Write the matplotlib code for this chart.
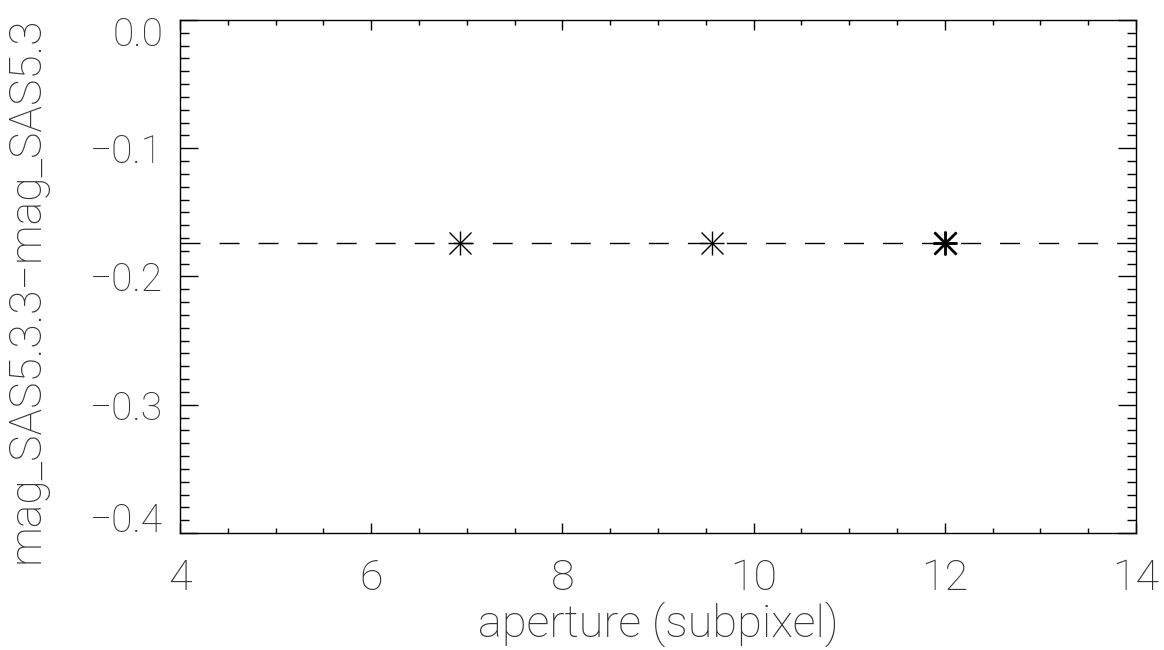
import matplotlib
matplotlib.use("Agg")
import matplotlib.pyplot as plt
from matplotlib.ticker import MultipleLocator
from matplotlib.transforms import ScaledTranslation, blended_transform_factory

# aperture sizes (subpixel) and magnitude differences
aperture = [6.93, 9.57, 12.0]
dmag = [-0.174, -0.174, -0.174]
mean_dmag = -0.174

xlabel = "aperture (subpixel)"
ylabel = "mag_SAS5.3.3\u2212mag_SAS5.3"
ymin, ymax = -0.4, 0.0

plt.rcParams['font.family'] = ['Roboto', 'DejaVu Sans']
plt.rcParams['lines.scale_dashes'] = False
txt = '#333333'
wt = 'light'


def fmt(v):
    return f"{v:.1f}".replace('-', '\u2212') if abs(v) > 1e-9 else "0.0"


fig = plt.figure(figsize=(11.64, 6.5), dpi=100)
ax = fig.add_axes([180 / 1164, 1 - 533 / 650, (1136 - 180) / 1164, (533 - 20) / 650])

ax.axhline(mean_dmag, color='black', lw=1.0, dashes=(14.4, 13.7))
ax.plot(aperture, dmag, ls='none', marker='+', ms=17, mew=1.0, color='black')
ax.plot(aperture, dmag, ls='none', marker='x', ms=16.5, mew=1.0, color='black')
# last point is drawn twice in the original
ax.plot(aperture[-1:], dmag[-1:], ls='none', marker='+', ms=17, mew=2.0, color='black')
ax.plot(aperture[-1:], dmag[-1:], ls='none', marker='x', ms=16.5, mew=2.0, color='black')

ax.set_xlim(4, 14)
ax.set_ylim(ymin, ymax)
ax.xaxis.set_major_locator(MultipleLocator(2))
ax.xaxis.set_minor_locator(MultipleLocator(0.5))
ax.yaxis.set_major_locator(MultipleLocator(0.1))
ax.yaxis.set_minor_locator(MultipleLocator(0.01))
# end labels are drawn separately, shifted inside the range like IDL does
ax.yaxis.set_major_formatter(
    lambda v, p: '' if abs(v - ymin) < 1e-9 or abs(v - ymax) < 1e-9 else fmt(v))

for s in ax.spines.values():
    s.set_linewidth(1.0)
ax.tick_params(which='both', direction='in', top=True, right=True, width=1.0, colors='black')
ax.tick_params(axis='x', which='major', length=7, pad=18, labelsize=31, labelcolor=txt)
ax.tick_params(axis='x', which='minor', length=3.5)
ax.tick_params(axis='y', which='major', length=13, pad=12, labelsize=28, labelcolor=txt)
ax.tick_params(axis='y', which='minor', length=6.5)

fig.canvas.draw()
for lab in ax.get_xticklabels() + ax.get_yticklabels():
    lab.set_fontweight(wt)

base = blended_transform_factory(ax.transAxes, ax.transData)
ax.text(0, ymax, fmt(ymax), ha='right', va='center', fontsize=28, color=txt, fontweight=wt,
        transform=base + ScaledTranslation(-12 / 72, -15 / 100, fig.dpi_scale_trans))
ax.text(0, ymin, fmt(ymin), ha='right', va='center', fontsize=28, color=txt, fontweight=wt,
        transform=base + ScaledTranslation(-12 / 72, 12 / 100, fig.dpi_scale_trans))

ax.set_xlabel(xlabel, fontsize=32.5, color=txt, fontweight=wt, labelpad=2)
ax.set_ylabel(ylabel, fontsize=32, color=txt, fontweight=wt)
ax.yaxis.set_label_coords(-0.139, 0.474)

fig.savefig("out.png", dpi=100)
